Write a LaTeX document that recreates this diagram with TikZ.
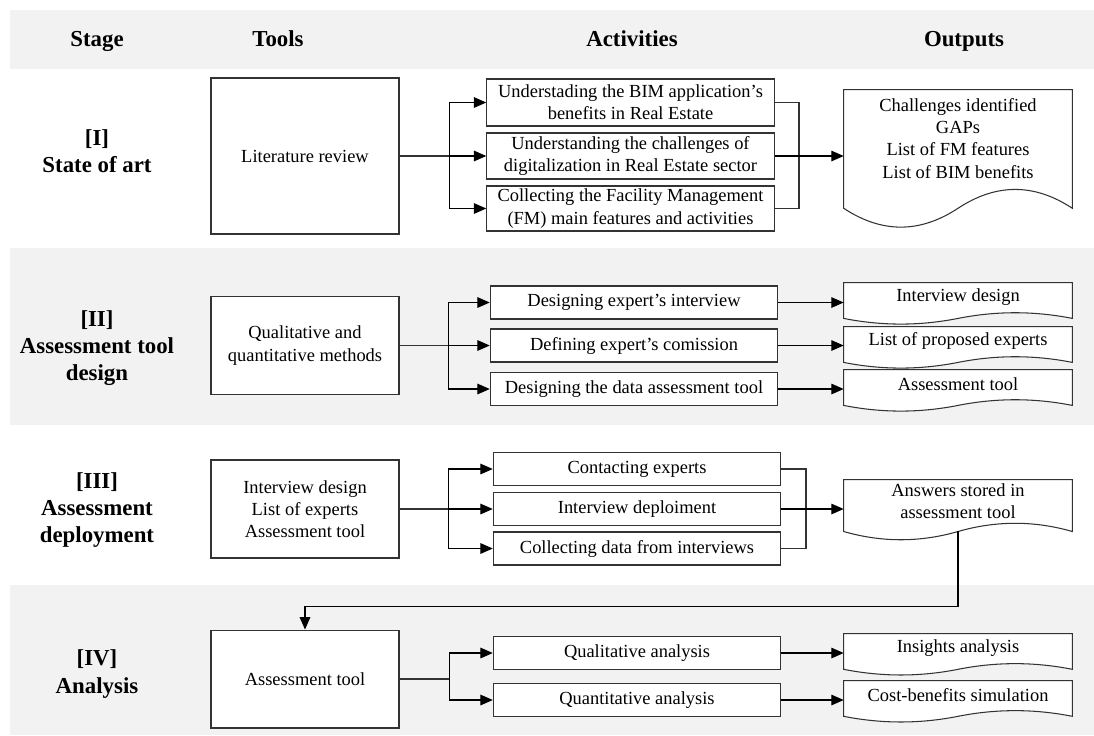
\documentclass[tikz,border=0pt]{standalone}
\usepackage{fontspec}
\setmainfont{Liberation Serif}
\usetikzlibrary{arrows.meta,calc}

\definecolor{bandgray}{HTML}{F2F2F2}

% document-shaped output box, wave below the node
\newcommand{\docshape}[1]{%
  \fill[white] let \p1=(#1.north west), \p2=(#1.south east),
      \n1={3*(\y1-\y2)/7}, \n2={(\x2-\x1)/6} in
    (\x1,\y2) -- (\x2,\y2) -- (\x2,\y2-0.5*\n1)
    .. controls (\x2-\n2,\y2+0.1*\n1) and (\x1+4*\n2,\y2+0.1*\n1) .. (\x1+3*\n2,\y2-0.5*\n1)
    .. controls (\x1+2*\n2,\y2-1.1*\n1) and (\x1+\n2,\y2-1.1*\n1) .. (\x1,\y2-0.5*\n1) -- cycle;
  \draw[line] let \p1=(#1.north west), \p2=(#1.south east),
      \n1={3*(\y1-\y2)/7}, \n2={(\x2-\x1)/6} in
    (\x1,\y1) -- (\x2,\y1) -- (\x2,\y2-0.5*\n1)
    .. controls (\x2-\n2,\y2+0.1*\n1) and (\x1+4*\n2,\y2+0.1*\n1) .. (\x1+3*\n2,\y2-0.5*\n1)
    .. controls (\x1+2*\n2,\y2-1.1*\n1) and (\x1+\n2,\y2-1.1*\n1) .. (\x1,\y2-0.5*\n1) -- cycle;}

\begin{document}
\begin{tikzpicture}[
		x=0.02cm, y=-0.02cm,
		every node/.style={font=\fontsize{10.5}{12.6}\selectfont, align=center, inner sep=1pt},
		line/.style={draw=black!80, line width=0.6pt},
		arr/.style={line width=0.6pt, -{Triangle[length=7pt,width=6pt]}},
		head/.style={font=\fontsize{13}{15.5}\selectfont\bfseries, text height=1.6ex, text depth=0.4ex},
		stage/.style={font=\fontsize{13}{15.5}\selectfont\bfseries},
		tool/.style={line, fill=white, minimum width=3.76cm, minimum height=1.96cm},
		act/.style={line, fill=white, minimum width=5.75cm, minimum height=0.66cm},
		doc/.style={fill=white, minimum width=4.56cm, minimum height=0.574cm}
	]
  \useasboundingbox (0,0) rectangle (1094,735);
  % bands
  \fill[bandgray] (10,10) rectangle (1094,69);
  \fill[bandgray] (10,248) rectangle (1094,425);
  \fill[bandgray] (10,585) rectangle (1094,735);

  % header
  \node[head] (hstage) at (97,42) {Stage};
  \node[head] (htools) at (278,42) {Tools};
  \node[head] (hact) at (632,42) {Activities};
  \node[head] (hout) at (964,42) {Outputs};

  % stages
  \node[stage] (s1) at (97,151) {[I]\\State of art};
  \node[stage] (s2) at (97,348) {[II]\\Assessment tool\\design};
  \node[stage] (s3) at (97,510) {[III]\\Assessment\\deployment};
  \node[stage] (s4) at (97,674) {[IV]\\Analysis};

  % tools
  \node[tool, minimum height=3.12cm] (t1) at (305,156) {Literature review};
  \node[tool] (t2) at (305,345.5) {Qualitative and\\quantitative methods};
  \node[tool] (t3) at (305,509) {Interview design\\List of experts\\Assessment tool};
  \node[tool] (t4) at (305,679) {Assessment tool};

  % activities
  \node[act, minimum height=0.94cm] (a11) at (630.5,102.5) {Understading the BIM application’s\\benefits in Real Estate};
  \node[act, minimum height=0.92cm] (a12) at (630.5,156) {Understanding the challenges of\\digitalization in Real Estate sector};
  \node[act, minimum height=0.9cm] (a13) at (630.5,208.5) {Collecting the Facility Management\\(FM) main features and activities};
  \node[act] (a21) at (634,302.5) {Designing expert’s interview};
  \node[act] (a22) at (634,345.5) {Defining expert’s comission};
  \node[act] (a23) at (634,389) {Designing the data assessment tool};
  \node[act] (a31) at (637,469) {Contacting experts};
  \node[act] (a32) at (637,509) {Interview deploiment};
  \node[act] (a33) at (637,548.5) {Collecting data from interviews};
  \node[act] (a41) at (637,653) {Qualitative analysis};
  \node[act] (a42) at (637,700) {Quantitative analysis};

  % outputs
  \node[doc, minimum height=1.94cm] (o1) at (958,138.5) {Challenges identified\\GAPs\\List of FM features\\List of BIM benefits};
  \node[doc] (o21) at (958,297.4) {Interview design};
  \node[doc] (o22) at (958,341.4) {List of proposed experts};
  \node[doc] (o23) at (958,384.4) {Assessment tool};
  \node[doc, minimum height=0.84cm] (o3) at (958,501) {Answers stored in\\assessment tool};
  \node[doc] (o41) at (958,648.3) {Insights analysis};
  \node[doc] (o42) at (958,695.3) {Cost-benefits simulation};
  \foreach \o in {o1,o21,o22,o23,o3,o41,o42} {\docshape{\o}}
  \coordinate (o3w) at ($(o3.south)+(0,9)$);

  % stage I
  \draw[line] (t1.east) -- ++(50,0) coordinate (b1);
  \foreach \a in {a11,a12,a13} \draw[arr] (b1) |- (\a.west);
  \coordinate (c1) at (799,156);
  \draw[line] (a11.east) -| (c1);
  \draw[line] (a13.east) -| (c1);
  \draw[arr] (a12.east) -- (o1.west |- a12.east);

  % stage II
  \draw[line] (t2.east) -- ++(49,0) coordinate (b2);
  \foreach \a/\o in {a21/o21,a22/o22,a23/o23} {
    \draw[arr] (b2) |- (\a.west);
    \draw[arr] (\a.east) -- (\o.west |- \a.east);
  }

  % stage III
  \draw[line] (t3.east) -- ++(49,0) coordinate (b3);
  \foreach \a in {a31,a32,a33} \draw[arr] (b3) |- (\a.west);
  \coordinate (c3) at (806,509);
  \draw[line] (a31.east) -| (c3);
  \draw[line] (a33.east) -| (c3);
  \draw[arr] (a32.east) -- (o3.west |- a32.east);
  \draw[arr] (o3w) -- ++(0,75) -| (t4.north);

  % stage IV
  \draw[line] (t4.east) -- ++(50,0) coordinate (b4);
  \foreach \a/\o in {a41/o41,a42/o42} {
    \draw[arr] (b4) |- (\a.west);
    \draw[arr] (\a.east) -- (\o.west |- \a.east);
  }
\end{tikzpicture}
\end{document}
